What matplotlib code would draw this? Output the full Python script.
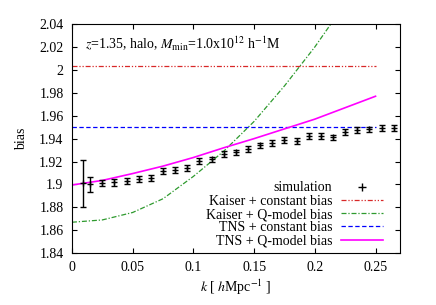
import matplotlib
matplotlib.use("Agg")
import matplotlib.pyplot as plt
from matplotlib.lines import Line2D
from matplotlib.ticker import FormatStrFormatter, MultipleLocator

# simulation points
k_sim = [0.009, 0.015, 0.025, 0.035, 0.045, 0.055, 0.065, 0.075, 0.085, 0.095,
         0.105, 0.115, 0.125, 0.135, 0.145, 0.155, 0.165, 0.175, 0.185, 0.195,
         0.205, 0.215, 0.225, 0.235, 0.245, 0.255, 0.265]
b_sim = [1.901, 1.900, 1.901, 1.9017, 1.9029, 1.9044, 1.9058, 1.912, 1.9125, 1.9142,
         1.9207, 1.9218, 1.9265, 1.928, 1.931, 1.934, 1.936, 1.9387, 1.938, 1.9425,
         1.942, 1.941, 1.9457, 1.9474, 1.948, 1.949, 1.9495]
e_sim = [0.0205, 0.0068, 0.0028, 0.0027, 0.0026, 0.0026, 0.0025, 0.0025, 0.0025, 0.0025,
         0.0025, 0.0025, 0.0025, 0.0025, 0.0025, 0.0025, 0.0025, 0.0025, 0.0025, 0.0025,
         0.0025, 0.0025, 0.0025, 0.0025, 0.0025, 0.0025, 0.0025]

# constant bias models
k_const = [0.0, 0.25]
b_kaiser_const = [2.0035, 2.0035]
b_tns_const = [1.9505, 1.9505]

# Q-model curves
k_kaiser_q = [0.0, 0.025, 0.05, 0.075, 0.1, 0.125, 0.15, 0.175, 0.2, 0.2125, 0.225]
b_kaiser_q = [1.867, 1.869, 1.8755, 1.8875, 1.907, 1.929, 1.955, 1.986, 2.020, 2.039, 2.058]
k_tns_q = [0.0, 0.025, 0.05, 0.075, 0.1, 0.125, 0.15, 0.175, 0.2, 0.225, 0.25]
b_tns_q = [1.8995, 1.9035, 1.9095, 1.916, 1.9235, 1.932, 1.940, 1.9485, 1.957, 1.967, 1.977]

plt.rcParams['font.family'] = ['Liberation Serif', 'DejaVu Serif']
plt.rcParams['mathtext.fontset'] = 'stix'
plt.rcParams['font.size'] = 10

fig = plt.figure(figsize=(4.36, 3.05), dpi=100)
ax = fig.add_axes([0.165, 0.170, 0.752, 0.751])

red = '#d82828'
green = '#2e9a2e'

ax.errorbar(k_sim, b_sim, yerr=e_sim, fmt='+', color='black', ms=5, mew=1.0,
            elinewidth=1.0, capsize=2.5, capthick=1.0, zorder=5)
ax.plot(k_const, b_kaiser_const, color=red, lw=0.9, dashes=(4, 1.5, 1, 1.5, 1, 1.5))
ax.plot(k_kaiser_q, b_kaiser_q, color=green, lw=0.9, dashes=(4, 1.5, 1, 1.5))
ax.plot(k_const, b_tns_const, color='blue', lw=0.9, dashes=(3.5, 2))
ax.plot(k_tns_q, b_tns_q, color='#ff00ff', lw=1.2)

ax.set_xlim(0, 0.27)
ax.set_ylim(1.84, 2.04)
ax.xaxis.set_major_locator(MultipleLocator(0.05))
ax.yaxis.set_major_locator(MultipleLocator(0.02))
ax.xaxis.set_major_formatter(FormatStrFormatter('%g'))
ax.yaxis.set_major_formatter(FormatStrFormatter('%g'))
ax.tick_params(direction='in', top=True, right=True, length=3.6, width=0.8, pad=6)

ax.set_xlabel(r'$k$ [ $h$Mpc$^{-1}$ ]', labelpad=2)
ax.set_ylabel('bias', labelpad=8)

ax.text(0.04, 0.915, r'$z$=1.35, halo, $M_{\rm min}$=1.0x10$^{12}$ h$^{-1}$M',
        transform=ax.transAxes, fontsize=10, va='center')

handles = [
    Line2D([], [], color='black', marker='+', ls='none', ms=6),
    Line2D([], [], color=red, lw=0.9, dashes=(4, 1.5, 1, 1.5, 1, 1.5)),
    Line2D([], [], color=green, lw=0.9, dashes=(4, 1.5, 1, 1.5)),
    Line2D([], [], color='blue', lw=0.9, dashes=(3.5, 2)),
    Line2D([], [], color='#ff00ff', lw=1.2),
]
labels = ['simulation', 'Kaiser + constant bias', 'Kaiser + Q-model bias',
          'TNS + constant bias', 'TNS + Q-model bias']
ax.legend(handles, labels, loc='lower right', bbox_to_anchor=(0.966, 0.0),
          frameon=False, markerfirst=False,
          handlelength=3.0, handletextpad=0.65, labelspacing=0.02,
          borderaxespad=0.0, fontsize=10)

fig.savefig('out.png', dpi=100)
